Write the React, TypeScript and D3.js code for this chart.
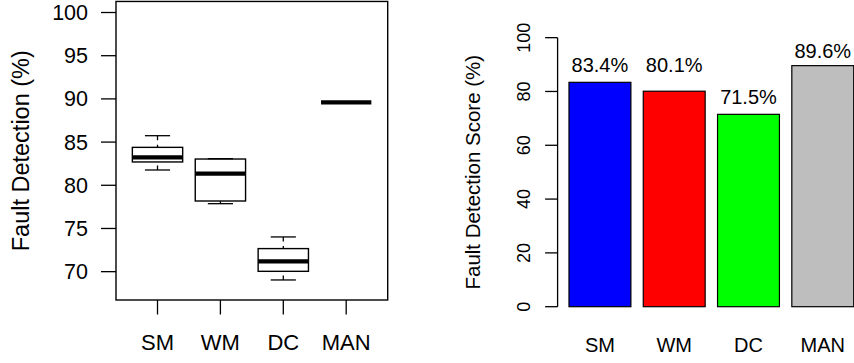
import React, { useEffect, useRef } from "react";
import * as d3 from "d3";

// data
const categories = ["SM", "WM", "DC", "MAN"];
const boxLow = [81.77, 77.87, 69.04, 89.6];
const boxQ1 = [82.7, 78.18, 70.04, 89.6];
const boxMedian = [83.24, 81.35, 71.2, 89.6];
const boxQ3 = [84.39, 83.04, 72.67, 89.6];
const boxHigh = [85.74, 83.08, 74.02, 89.6];
const boxTicks = [70, 75, 80, 85, 90, 95, 100];

const scores = [83.4, 80.1, 71.5, 89.6];
const scoreLabels = ["83.4%", "80.1%", "71.5%", "89.6%"];
const labelAt = [90, 90, 78, 95];
const scoreTicks = [0, 20, 40, 60, 80, 100];
const barColors = ["#0000ff", "#ff0000", "#00ff00", "#bebebe"];

const FONT = "'Liberation Sans', Arial, Helvetica, sans-serif";

export default function App() {
  const ref = useRef<SVGSVGElement | null>(null);

  useEffect(() => {
    const svg = d3.select(ref.current);
    svg.selectAll("*").remove();

    // ---------- left: boxplot ----------
    const xb = d3.scaleLinear().domain([0.34, 4.66]).range([116, 387.7]);
    const yb = d3.scaleLinear().domain([66.72, 101.28]).range([300, 1.45]);
    const left = svg.append("g");

    left.append("rect")
      .attr("x", xb(0.34)).attr("y", yb(101.28))
      .attr("width", xb(4.66) - xb(0.34)).attr("height", yb(66.72) - yb(101.28))
      .attr("fill", "none").attr("stroke", "black").attr("stroke-width", 1.4);

    // y axis
    boxTicks.forEach((t) => {
      left.append("line")
        .attr("x1", xb(0.34) - 15).attr("x2", xb(0.34))
        .attr("y1", yb(t)).attr("y2", yb(t))
        .attr("stroke", "black").attr("stroke-width", 1.3);
      left.append("text")
        .attr("x", 88).attr("y", yb(t) + 7.6)
        .attr("text-anchor", "end")
        .style("font-size", "21.5px").style("font-family", FONT)
        .text(t);
    });

    left.append("text")
      .attr("transform", `translate(28.5,${(yb(66.72) + yb(101.28)) / 2}) rotate(-90)`)
      .attr("text-anchor", "middle")
      .style("font-size", "23.5px").style("font-family", FONT)
      .text("Fault Detection (%)");

    categories.forEach((c, i) => {
      const cx = xb(i + 1);
      left.append("line")
        .attr("x1", cx).attr("x2", cx).attr("y1", 300).attr("y2", 314.5)
        .attr("stroke", "black").attr("stroke-width", 1.3);
      left.append("text")
        .attr("x", cx).attr("y", 350)
        .attr("text-anchor", "middle")
        .style("font-size", "22px").style("font-family", FONT)
        .text(c);

      const g = left.append("g").attr("stroke", "black").attr("fill", "none");
      // whiskers (dashed, drawn from the cap toward the box)
      g.append("line")
        .attr("x1", cx).attr("x2", cx).attr("y1", yb(boxLow[i])).attr("y2", yb(boxQ1[i]))
        .attr("stroke-width", 1.3).attr("stroke-dasharray", "4.5,4.5");
      g.append("line")
        .attr("x1", cx).attr("x2", cx).attr("y1", yb(boxHigh[i])).attr("y2", yb(boxQ3[i]))
        .attr("stroke-width", 1.3).attr("stroke-dasharray", "4.5,4.5");
      [boxLow[i], boxHigh[i]].forEach((v) => {
        g.append("line")
          .attr("x1", xb(i + 0.8)).attr("x2", xb(i + 1.2))
          .attr("y1", yb(v)).attr("y2", yb(v))
          .attr("stroke-width", 1.3);
      });
      if (boxQ3[i] > boxQ1[i]) {
        g.append("rect")
          .attr("x", xb(i + 0.6)).attr("y", yb(boxQ3[i]))
          .attr("width", xb(i + 1.4) - xb(i + 0.6))
          .attr("height", yb(boxQ1[i]) - yb(boxQ3[i]))
          .attr("stroke-width", 1.4);
      }
      g.append("line")
        .attr("x1", xb(i + 0.6)).attr("x2", xb(i + 1.4))
        .attr("y1", yb(boxMedian[i])).attr("y2", yb(boxMedian[i]))
        .attr("stroke-width", 4.2);
    });

    // ---------- right: barplot ----------
    const xr = d3.scaleLinear().domain([0.016, 4.984]).range([557.6, 865.1]);
    const yr = d3.scaleLinear().domain([-4, 104]).range([317.46, 26.9]);
    const right = svg.append("g");

    right.append("line")
      .attr("x1", xr(0.016)).attr("x2", xr(0.016))
      .attr("y1", yr(0)).attr("y2", yr(100))
      .attr("stroke", "black").attr("stroke-width", 1.3);
    scoreTicks.forEach((t) => {
      right.append("line")
        .attr("x1", xr(0.016) - 12.5).attr("x2", xr(0.016))
        .attr("y1", yr(t)).attr("y2", yr(t))
        .attr("stroke", "black").attr("stroke-width", 1.3);
      right.append("text")
        .attr("transform", `translate(530,${yr(t)}) rotate(-90)`)
        .attr("text-anchor", "middle")
        .style("font-size", "18px").style("font-family", FONT)
        .text(t);
    });
    right.append("text")
      .attr("transform", `translate(480,${(yr(-4) + yr(104)) / 2}) rotate(-90)`)
      .attr("text-anchor", "middle")
      .style("font-size", "20.5px").style("font-family", FONT)
      .text("Fault Detection Score (%)");

    scores.forEach((v, i) => {
      const x0 = 0.2 + 1.2 * i;
      right.append("rect")
        .attr("x", xr(x0)).attr("y", yr(v))
        .attr("width", xr(x0 + 1) - xr(x0)).attr("height", yr(0) - yr(v))
        .attr("fill", barColors[i]).attr("stroke", "black").attr("stroke-width", 1.2);
      right.append("text")
        .attr("x", xr(x0 + 0.5)).attr("y", yr(labelAt[i]) + 7.2)
        .attr("text-anchor", "middle")
        .style("font-size", "20px").style("font-family", FONT)
        .text(scoreLabels[i]);
      right.append("text")
        .attr("x", xr(x0 + 0.5)).attr("y", 351.7)
        .attr("text-anchor", "middle")
        .style("font-size", "20px").style("font-family", FONT)
        .text(categories[i]);
    });
  }, []);

  return (
    <svg
      ref={ref}
      width={854}
      height={363}
      style={{ position: "absolute", left: 0, top: 0, background: "white" }}
    />
  );
}
